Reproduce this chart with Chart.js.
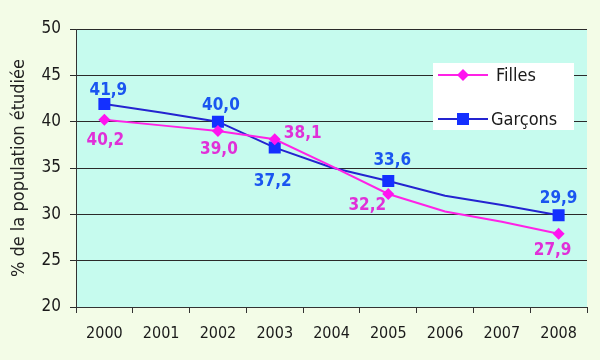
<!DOCTYPE html>
<html><head><meta charset="utf-8">
<script src="https://cdn.jsdelivr.net/npm/chart.js@4"></script>
<style>html,body{margin:0;padding:0;background:#f3fce7;}#wrap{width:600px;height:360px;}</style>
</head><body><div id="wrap"><canvas id="c" width="600" height="360"></canvas></div>
<script>
const years = ['2000','2001','2002','2003','2004','2005','2006','2007','2008'];
const filles = [40.2, 39.6, 39.0, 38.1, 35.2, 32.2, 30.3, 29.2, 27.9];
const garcons = [41.9, 41.0, 40.0, 37.2, 35.05, 33.6, 32.0, 31.0, 29.9];
const shown = [true, false, true, true, false, true, false, false, true];
const yTicks = [20, 25, 30, 35, 40, 45, 50];
const seriesNames = ['Filles', 'Garçons'];

const FONT = "'DejaVu Sans Condensed', 'DejaVu Sans', sans-serif";
const FILLES_LINE = '#ff22e6', FILLES_PT = '#ff14f0', FILLES_TXT = '#e030d8';
const GARCONS_LINE = '#2424d0', GARCONS_PT = '#1430ff', GARCONS_TXT = '#1a55f0';

// label offsets (style), per visible point
const labelOffsets = {
  0: {0:[1,20], 2:[1,18], 3:[28,-7], 5:[-21,11], 8:[-6,16]},
  1: {0:[4,-14], 2:[3,-17], 3:[-2,33], 5:[4,-21], 8:[0,-18]}
};
const labelColors = [FILLES_TXT, GARCONS_TXT];

function fmt(v){ return v.toFixed(1).replace('.', ','); }

const bgPlugin = {
  id: 'bg',
  beforeDraw(chart){
    const {ctx, chartArea:a} = chart;
    ctx.save();
    ctx.fillStyle = '#f3fce7';
    ctx.fillRect(0,0,chart.width,chart.height);
    ctx.fillStyle = '#c6fbee';
    ctx.fillRect(a.left, a.top, a.right-a.left, a.bottom-a.top);
    ctx.restore();
  }
};

function drawMarker(ctx, style, x, y, r, color){
  ctx.fillStyle = color;
  ctx.beginPath();
  if (style === 'rectRot'){
    ctx.moveTo(x-r, y); ctx.lineTo(x, y-r); ctx.lineTo(x+r, y); ctx.lineTo(x, y+r); ctx.closePath();
  } else {
    const s = r*Math.SQRT1_2;
    ctx.rect(x-s, y-s, 2*s, 2*s);
  }
  ctx.fill();
}

const overlayPlugin = {
  id: 'overlay',
  afterDatasetsDraw(chart){
    const ctx = chart.ctx;
    ctx.save();
    ctx.font = "bold 17px " + FONT;
    ctx.textAlign = 'center';
    ctx.textBaseline = 'middle';
    chart.data.datasets.forEach((ds, di) => {
      const meta = chart.getDatasetMeta(di);
      meta.data.forEach((pt, i) => {
        if (!shown[i]) return;
        const off = labelOffsets[di][i] || [0,0];
        ctx.fillStyle = labelColors[di];
        ctx.fillText(fmt(ds.data[i]), pt.x + off[0], pt.y + off[1] + 1);
      });
    });
    // legend box
    const bx = 433, by = 63, bw = 141, bh = 67;
    ctx.fillStyle = '#ffffff';
    ctx.fillRect(bx, by, bw, bh);
    const entries = [
      {name: seriesNames[0], y: 75, line: FILLES_LINE, pt: FILLES_PT, style: 'rectRot', r: 6, tx: 496},
      {name: seriesNames[1], y: 119, line: GARCONS_LINE, pt: GARCONS_PT, style: 'rect', r: 8.5, tx: 491}
    ];
    ctx.font = "18px " + FONT;
    ctx.textAlign = 'left';
    entries.forEach(e => {
      ctx.strokeStyle = e.line; ctx.lineWidth = 2;
      ctx.beginPath(); ctx.moveTo(438, e.y); ctx.lineTo(488, e.y); ctx.stroke();
      drawMarker(ctx, e.style, 463, e.y, e.r, e.pt);
      ctx.fillStyle = '#1a1a1a';
      ctx.fillText(e.name, e.tx, e.y + 1);
    });
    ctx.restore();
  }
};

new Chart(document.getElementById('c'), {
  type: 'line',
  data: {
    labels: years,
    datasets: [
      {
        label: seriesNames[0], data: filles,
        borderColor: FILLES_LINE, borderWidth: 2,
        pointStyle: 'rectRot', pointBackgroundColor: FILLES_PT, pointBorderColor: FILLES_PT, pointBorderWidth: 0,
        pointRadius: shown.map(s => s ? 6 : 0), tension: 0
      },
      {
        label: seriesNames[1], data: garcons,
        borderColor: GARCONS_LINE, borderWidth: 2,
        pointStyle: 'rect', pointBackgroundColor: GARCONS_PT, pointBorderColor: GARCONS_PT, pointBorderWidth: 0,
        pointRadius: shown.map(s => s ? 8.5 : 0), tension: 0
      }
    ]
  },
  options: {
    responsive: false,
    animation: false,
    layout: { padding: { left: 0, right: 13, top: 29, bottom: 0 } },
    plugins: { legend: { display: false }, tooltip: { enabled: false } },
    scales: {
      x: {
        type: 'category', offset: true,
        grid: { offset: true, drawOnChartArea: false, drawTicks: true, tickLength: 6, color: '#333', lineWidth: 1 },
        border: { display: true, color: '#333', width: 1 },
        ticks: { color: '#1a1a1a', font: { family: FONT, size: 16 }, padding: 11, maxRotation: 0, autoSkip: false },
        afterFit(s){ s.height = 53; }
      },
      y: {
        min: 20, max: 50,
        afterBuildTicks(s){ s.ticks = yTicks.map(v => ({value: v})); },
        grid: { color: '#2a2a2a', lineWidth: 1, tickLength: 6, drawTicks: true },
        border: { display: true, color: '#333', width: 1 },
        ticks: { color: '#1a1a1a', font: { family: FONT, size: 17 }, padding: 9 },
        title: { display: true, text: '% de la population étudiée', color: '#222', font: { family: FONT, size: 18 }, padding: { top: 9, bottom: 0 } },
        afterFit(s){ s.width = 76; }
      }
    }
  },
  plugins: [bgPlugin, overlayPlugin]
});
</script>
</body></html>
